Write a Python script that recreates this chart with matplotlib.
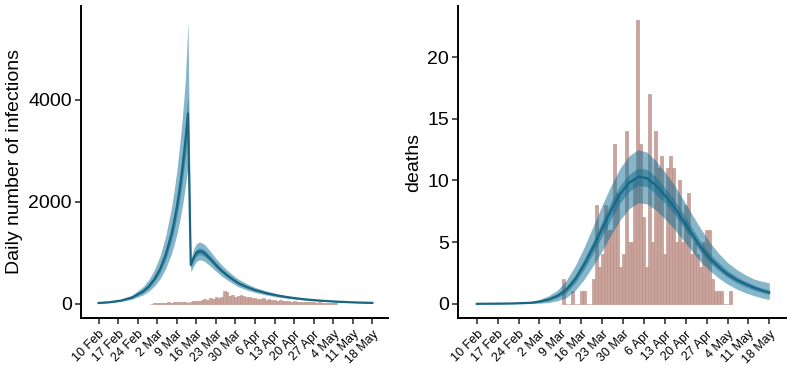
import matplotlib
matplotlib.use("Agg")
import matplotlib.pyplot as plt
import numpy as np

plt.rcParams['font.family'] = ['Liberation Sans', 'DejaVu Sans']

# ---------------- data ----------------
tick_days = [0, 7, 14, 21, 28, 35, 42, 49, 56, 63, 70, 77, 84, 91, 98]
tick_labels = ["10 Feb", "17 Feb", "24 Feb", "2 Mar", "9 Mar", "16 Mar", "23 Mar",
               "30 Mar", "6 Apr", "13 Apr", "20 Apr", "27 Apr", "4 May", "11 May", "18 May"]

# infections model (days after 10 Feb)
inf_days = [0, 4, 8, 12, 16, 18, 20, 22, 24, 26, 27, 28, 29, 30, 31, 32,
            33, 34, 35, 36, 37, 38, 40, 42, 44, 46, 48, 50, 53, 56, 60, 64, 68,
            72, 76, 80, 85, 90, 95, 98]
inf_med = [16, 32, 63, 124, 246, 345, 485, 681, 958, 1345, 1594, 1890, 2240, 2655, 3147, 3730,
           760, 900, 1000, 1030, 1020, 990, 880, 760, 650, 560, 480, 405, 330, 270, 210, 163, 127,
           99, 77, 60, 43, 31, 22, 18]
inf_olo = [11, 23, 45, 89, 177, 248, 349, 490, 690, 968, 1148, 1360, 1613, 1912, 2266, 2690,
           620, 740, 830, 860, 855, 830, 740, 640, 545, 468, 400, 335, 272, 222, 173, 134, 104,
           81, 63, 49, 35, 25, 17, 14]
inf_ohi = [22, 44, 87, 171, 340, 476, 670, 940, 1322, 1856, 2200, 2608, 3091, 3664, 4343, 5530,
           880, 1070, 1180, 1210, 1195, 1160, 1030, 890, 765, 660, 568, 485, 395, 322, 251, 195, 152,
           119, 93, 73, 53, 39, 28, 23]
inf_ilo = [14, 29, 57, 112, 221, 310, 437, 613, 862, 1210, 1435, 1700, 2016, 2390, 2832, 3360,
           710, 840, 935, 965, 955, 925, 825, 710, 608, 523, 448, 378, 308, 252, 195, 152, 118,
           92, 72, 56, 40, 29, 20, 17]
inf_ihi = [18, 35, 69, 136, 270, 380, 534, 750, 1054, 1480, 1753, 2080, 2464, 2920, 3462, 4100,
           810, 960, 1065, 1095, 1085, 1055, 935, 810, 692, 597, 512, 432, 352, 288, 225, 174, 136,
           106, 82, 64, 46, 33, 24, 19]

# reported cases (bars), days 19..85
case_days = list(range(19, 86))
cases = [5, 10, 15, 20, 20, 25, 30, 25, 35, 40, 30, 35, 30, 25, 45, 50, 60, 55, 70, 90,
         80, 110, 90, 130, 120, 130, 250, 230, 150, 180, 140, 160, 170, 150, 140, 130, 110,
         120, 100, 90, 110, 80, 90, 70, 80, 60, 70, 55, 60, 50, 45, 50, 40, 45, 35, 40, 30,
         35, 30, 25, 30, 25, 20, 20, 15, 15, 10]

# deaths model
dth_days = [0, 6, 12, 18, 21, 24, 27, 30, 33, 36, 39, 42, 45, 48, 51, 54, 57, 60, 63, 66,
            69, 72, 75, 78, 81, 84, 87, 90, 93, 96, 98]
dth_med = [0.0, 0.01, 0.03, 0.08, 0.18, 0.35, 0.65, 1.15, 2.0, 3.2, 4.6, 6.1, 7.6, 8.9, 9.8,
           10.3, 10.2, 9.6, 8.8, 7.9, 6.8, 5.7, 4.6, 3.7, 3.0, 2.4, 1.95, 1.6, 1.3, 1.05, 0.92]
dth_olo = [0.0, 0.0, 0.01, 0.02, 0.05, 0.1, 0.25, 0.5, 1.1, 2.0, 3.1, 4.3, 5.6, 6.8, 7.7,
           8.2, 8.1, 7.6, 6.9, 6.1, 5.2, 4.3, 3.4, 2.7, 2.1, 1.6, 1.2, 0.9, 0.65, 0.45, 0.35]
dth_ohi = [0.0, 0.02, 0.06, 0.18, 0.35, 0.65, 1.1, 1.9, 3.1, 4.6, 6.3, 8.0, 9.6, 11.0, 12.0,
           12.5, 12.3, 11.6, 10.7, 9.7, 8.5, 7.3, 6.1, 5.0, 4.1, 3.35, 2.8, 2.35, 2.0, 1.8, 1.7]
dth_ilo = [0.0, 0.0, 0.02, 0.05, 0.12, 0.25, 0.5, 0.9, 1.7, 2.8, 4.1, 5.5, 6.9, 8.2, 9.1,
           9.6, 9.5, 8.9, 8.2, 7.3, 6.3, 5.25, 4.2, 3.35, 2.7, 2.15, 1.7, 1.38, 1.1, 0.87, 0.75]
dth_ihi = [0.0, 0.01, 0.04, 0.12, 0.25, 0.45, 0.8, 1.4, 2.35, 3.65, 5.1, 6.7, 8.3, 9.6, 10.5,
           11.0, 10.9, 10.3, 9.4, 8.5, 7.4, 6.2, 5.05, 4.1, 3.35, 2.7, 2.2, 1.83, 1.5, 1.25, 1.1]

# reported deaths (bars), days 29..85
death_days = list(range(29, 86))
deaths = [2, 0, 0, 1, 0, 0, 1, 1, 0, 0, 2, 8, 3, 4, 8, 6, 6, 13, 9, 3, 4, 14, 5, 5, 10, 23,
          13, 7, 3, 17, 5, 14, 11, 12, 4, 11, 12, 11, 5, 10, 5, 8, 9, 4, 5, 4, 3, 5, 6, 6, 2,
          1, 1, 1, 0, 0, 1]

# ---------------- style ----------------
BAND = '#0E6F95'
LINE = '#1B6683'
BAR = '#C9A39C'
BAR_EDGE = '#B98C84'

fig = plt.figure(figsize=(8.0, 3.66), dpi=100)
ax1 = fig.add_axes([81/800, 1 - 318/366, (388-81)/800, (318-6)/366])
ax2 = fig.add_axes([458/800, 1 - 318/366, (786-458)/800, (318-6)/366])


def draw(ax, bd, bv, md, med, olo, ohi, ilo, ihi):
    ax.bar(bd, bv, width=1.0, color=BAR, edgecolor=BAR_EDGE, linewidth=0.4, zorder=1)
    ax.fill_between(md, olo, ohi, color=BAND, alpha=0.5, linewidth=0, zorder=2)
    ax.fill_between(md, ilo, ihi, color=BAND, alpha=0.5, linewidth=0, zorder=3)
    ax.plot(md, med, color=LINE, linewidth=1.6, zorder=4)
    for s in ['top', 'right']:
        ax.spines[s].set_visible(False)
    for s in ['left', 'bottom']:
        ax.spines[s].set_linewidth(1.4)
    ax.set_xlim(-6.3, 103.6)
    ax.set_xticks(tick_days)
    ax.set_xticklabels(tick_labels, rotation=45, ha='right', va='top',
                       rotation_mode='anchor', fontsize=9)
    ax.tick_params(axis='both', length=4.5, width=1.2, color='#333333')
    ax.tick_params(axis='y', labelsize=14, pad=2)
    ax.tick_params(axis='x', pad=3)


draw(ax1, case_days, cases, inf_days, inf_med, inf_olo, inf_ohi, inf_ilo, inf_ihi)
ax1.set_ylim(-278, 5838)
ax1.set_yticks([0, 2000, 4000])
ax1.set_ylabel('Daily number of infections', fontsize=14, labelpad=4)

draw(ax2, death_days, deaths, dth_days, dth_med, dth_olo, dth_ohi, dth_ilo, dth_ihi)
ax2.set_ylim(-1.15, 24.15)
ax2.set_yticks([0, 5, 10, 15, 20])
ax2.set_ylabel('deaths', fontsize=14, labelpad=4)

fig.savefig('out.png', dpi=100)
